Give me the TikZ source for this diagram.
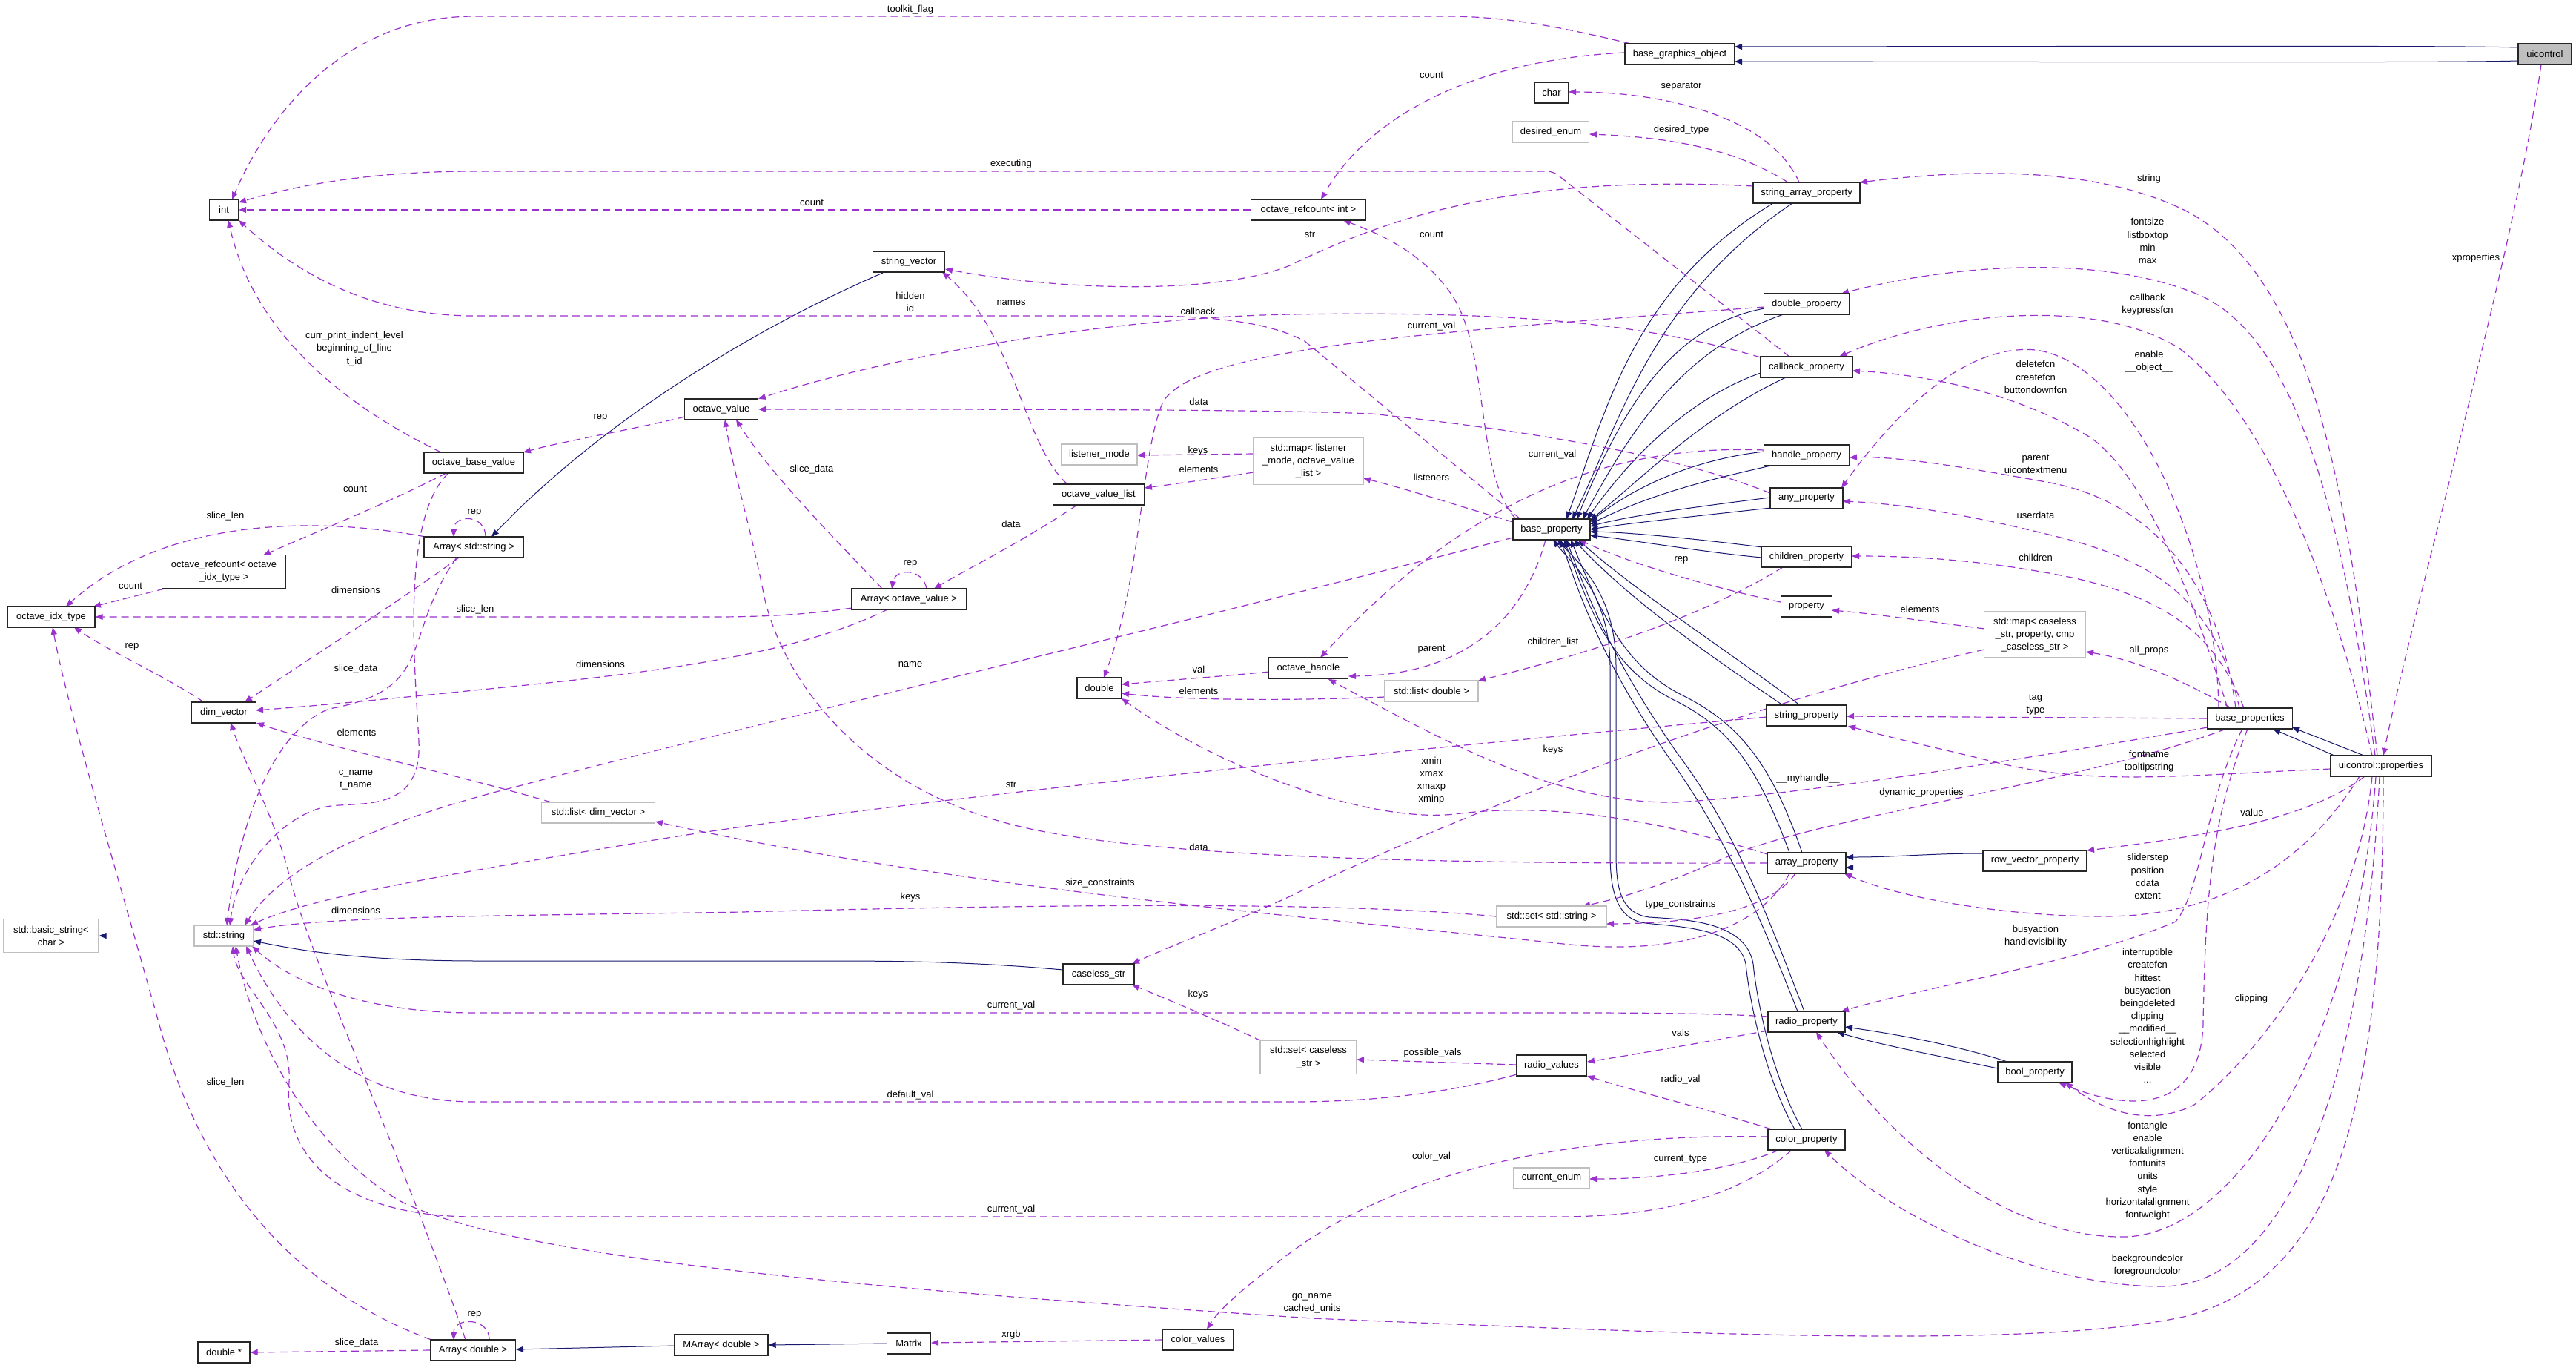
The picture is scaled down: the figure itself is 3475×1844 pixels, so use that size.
\documentclass[tikz,border=0pt]{standalone}
\usepackage{fontspec}
\setmainfont{Liberation Sans}
\usetikzlibrary{arrows.meta,calc}
\pgfdeclarelayer{background}
\pgfsetlayers{background,main}
\definecolor{purp}{HTML}{9A32CD}
\definecolor{navyc}{HTML}{191970}
\definecolor{grayb}{HTML}{BFBFBF}
\newcommand\dfont{\fontsize{6.5pt}{8.6pt}\selectfont}
\begin{document}
\begin{tikzpicture}[x=0.5pt,y=-0.5pt,
  cls/.style={draw=black!85, line width=0.7pt, fill=white, font=\dfont, align=center, inner xsep=2pt, inner ysep=2pt, minimum height=14pt},
  ext/.style={cls, draw=grayb},
  inh/.style={draw=navyc, line width=0.5pt, -{Triangle[length=5pt,width=4pt]}},
  dep/.style={draw=purp, line width=0.6pt, dash pattern=on 5pt off 3pt, -{Triangle[length=5pt,width=4pt]}},
  lab/.style={font=\dfont, align=center, inner sep=0pt}]
\useasboundingbox (0,0) rectangle (3475,1844);
% ---------------- nodes
\node[cls,fill=grayb,minimum width=36pt] (uic) at (3433,73) {uicontrol};
\node[cls,minimum width=74pt] (bgo) at (2266,73) {base\_graphics\_object};
\node[cls,minimum width=23pt] (char) at (2093,125) {char};
\node[ext,minimum width=51.5pt] (denum) at (2092,178) {desired\_enum};
\node[cls,minimum width=72pt] (sap) at (2437,260) {string\_array\_property};
\node[cls,minimum width=77.5pt] (orint) at (1765,283) {octave\_refcount< int >};
\node[cls,minimum width=19.5pt] (int) at (302,283) {int};
\node[cls,minimum width=48.5pt] (sv) at (1226,353) {string\_vector};
\node[cls,minimum width=57.5pt] (dp) at (2437,410) {double\_property};
\node[cls,minimum width=62pt] (cbp) at (2437,495) {callback\_property};
\node[cls,minimum width=49.5pt] (ov) at (973,552) {octave\_value};
\node[cls,minimum width=67pt] (obv) at (639,624) {octave\_base\_value};
\node[ext,minimum width=51pt] (lm) at (1483,613) {listener\_mode};
\node[ext,minimum width=74pt,minimum height=31.5pt] (mapl) at (1765,622) {std::map< listener\\\_mode, octave\_value\\\_list >};
\node[cls,minimum width=57.5pt] (hp) at (2437,614) {handle\_property};
\node[cls,minimum width=61.5pt] (ovl) at (1482,667) {octave\_value\_list};
\node[cls,minimum width=49pt] (anyp) at (2437,672) {any\_property};
\node[cls,minimum width=52pt] (bp) at (2093,714) {base\_property};
\node[cls,minimum width=67pt] (astr) at (639,738) {Array< std::string >};
\node[cls,minimum width=83.5pt,minimum height=22.5pt] (oroi) at (302,771) {octave\_refcount< octave\\\_idx\_type >};
\node[cls,minimum width=59pt] (oidx) at (69,832) {octave\_idx\_type};
\node[cls,minimum width=60.5pt] (chp) at (2437,751) {children\_property};
\node[cls,minimum width=77.5pt] (aov) at (1226,808) {Array< octave\_value >};
\node[cls,minimum width=34.5pt] (prop) at (2437,818) {property};
\node[ext,minimum width=68.5pt,minimum height=31pt] (mapc) at (2745,856) {std::map< caseless\\\_str, property, cmp\\\_caseless\_str >};
\node[cls,minimum width=53.5pt] (oh) at (1765,901) {octave\_handle};
\node[cls,minimum width=30pt] (dbl) at (1483,928) {double};
\node[ext,minimum width=63pt] (ldbl) at (1931,932) {std::list< double >};
\node[cls,minimum width=43.5pt] (dimv) at (302,961) {dim\_vector};
\node[cls,minimum width=54pt] (strp) at (2437,965) {string\_property};
\node[cls,minimum width=57.5pt] (bps) at (3035,969) {base\_properties};
\node[cls,minimum width=68pt] (uip) at (3212,1033) {uicontrol::properties};
\node[ext,minimum width=76.5pt] (ldim) at (807,1096) {std::list< dim\_vector >};
\node[cls,minimum width=53pt] (arrp) at (2437,1164) {array\_property};
\node[cls,minimum width=70pt] (rvp) at (2745,1161) {row\_vector\_property};
\node[ext,minimum width=74pt] (sets) at (2093,1236) {std::set< std::string >};
\node[ext,minimum width=64pt,minimum height=22.5pt] (bstr) at (69,1262) {std::basic\_string<\\char >};
\node[ext,minimum width=40pt] (str) at (302,1262) {std::string};
\node[cls,minimum width=48pt] (cstr) at (1482,1314) {caseless\_str};
\node[cls,minimum width=52pt] (radp) at (2437,1378) {radio\_property};
\node[ext,minimum width=65pt,minimum height=22.5pt] (setc) at (1765,1426) {std::set< caseless\\\_str >};
\node[cls,minimum width=47.5pt] (radv) at (2093,1437) {radio\_values};
\node[cls,minimum width=50pt] (boolp) at (2745,1446) {bool\_property};
\node[cls,minimum width=52pt] (colp) at (2437,1537) {color\_property};
\node[ext,minimum width=51pt] (cenum) at (2093,1589) {current\_enum};
\node[cls,minimum width=63pt] (marr) at (973,1814) {MArray< double >};
\node[cls,minimum width=29.5pt] (matrix) at (1226,1812) {Matrix};
\node[cls,minimum width=48pt] (colv) at (1616,1807) {color\_values};
\node[cls,minimum width=57.5pt] (adbl) at (638,1821) {Array< double >};
\node[cls,minimum width=35pt] (dstar) at (302,1824) {double *};
% ---------------- edges
\begin{pgfonlayer}{background}
\fill[white] (0,0) rectangle (3475,1844);
% inheritance
\draw[inh] ($(uic)+(-36,-9)$) .. controls (3320,62) and (3100,62) .. ($(bgo)+(74,-10)$);
\draw[inh] ($(uic)+(-36,9)$) .. controls (3320,84) and (3100,84) .. ($(bgo)+(74,10)$);
\draw[inh] ($(sap)+(-45,14)$) .. controls (2200,390) and (2165,560) .. ($(bp)+(20,-14)$);
\draw[inh] ($(sap)+(-19,14)$) .. controls (2230,400) and (2185,570) .. ($(bp)+(28,-14)$);
\draw[inh] ($(dp)+(-57,6)$) .. controls (2250,440) and (2185,560) .. ($(bp)+(34,-14)$);
\draw[inh] ($(dp)+(-31,14)$) .. controls (2270,470) and (2200,580) .. ($(bp)+(42,-14)$);
\draw[inh] ($(cbp)+(-62,8)$) .. controls (2270,540) and (2190,630) .. ($(bp)+(48,-14)$);
\draw[inh] ($(cbp)+(-28,14)$) .. controls (2300,560) and (2220,640) .. ($(bp)+(52,-12)$);
\draw[inh] ($(hp)+(-57,-5)$) .. controls (2280,620) and (2200,660) .. ($(bp)+(52,-10)$);
\draw[inh] ($(hp)+(-48,14)$) .. controls (2290,650) and (2220,670) .. ($(bp)+(52,-7)$);
\draw[inh] ($(anyp)+(-49,-1)$) .. controls (2300,682) and (2200,695) .. ($(bp)+(52,-4)$);
\draw[inh] ($(anyp)+(-49,13)$) .. controls (2300,695) and (2200,705) .. ($(bp)+(52,0)$);
\draw[inh] ($(chp)+(-60,-13)$) .. controls (2300,728) and (2200,718) .. ($(bp)+(52,3)$);
\draw[inh] ($(chp)+(-60,1)$) .. controls (2300,745) and (2200,728) .. ($(bp)+(52,8)$);
\draw[inh] ($(strp)+(-32,-14)$) .. controls (2300,880) and (2200,810) .. ($(bp)+(30,14)$);
\draw[inh] ($(strp)+(-9,-14)$) .. controls (2320,870) and (2210,800) .. ($(bp)+(36,14)$);
\draw[inh] ($(arrp)+(-23,-14)$) .. controls (2370,1030) and (2330,980) .. (2260,945) .. controls (2180,905) and (2150,840) .. ($(bp)+(17,14)$);
\draw[inh] ($(arrp)+(-6,-14)$) .. controls (2390,1030) and (2345,975) .. (2270,938) .. controls (2195,900) and (2165,840) .. ($(bp)+(26,14)$);
\draw[inh] ($(radp)+(-12,-14)$) .. controls (2380,1250) and (2330,1130) .. (2250,1020) .. controls (2160,890) and (2130,800) .. ($(bp)+(12,14)$);
\draw[inh] ($(radp)+(-3,-14)$) .. controls (2390,1250) and (2345,1125) .. (2262,1015) .. controls (2175,890) and (2140,800) .. ($(bp)+(20,14)$);
\draw[inh] ($(colp)+(-16,-14)$) .. controls (2380,1450) and (2360,1350) .. (2355,1300) .. controls (2345,1250) and (2260,1250) .. (2220,1245) .. controls (2180,1240) and (2172,1200) .. (2172,1150) -- (2172,900) .. controls (2172,800) and (2120,760) .. ($(bp)+(2,14)$);
\draw[inh] ($(colp)+(-6,-14)$) .. controls (2390,1450) and (2370,1350) .. (2365,1300) .. controls (2355,1240) and (2265,1240) .. (2225,1237) .. controls (2185,1232) and (2180,1195) .. (2180,1150) -- (2180,900) .. controls (2180,800) and (2130,760) .. ($(bp)+(8,14)$);
\draw[inh] ($(rvp)+(-70,-10)$) .. controls (2600,1151) and (2560,1156) .. ($(arrp)+(53,-8)$);
\draw[inh] ($(rvp)+(-70,9)$) .. controls (2600,1170) and (2560,1170) .. ($(arrp)+(53,6)$);
\draw[inh] ($(boolp)+(-37,-14)$) .. controls (2640,1410) and (2560,1395) .. ($(radp)+(52,7)$);
\draw[inh] ($(boolp)+(-50,-5)$) .. controls (2620,1425) and (2540,1410) .. ($(radp)+(41,14)$);
\draw[inh] ($(uip)+(-63,-14)$) -- ($(bps)+(31,14)$);
\draw[inh] ($(uip)+(-23,-14)$) -- ($(bps)+(57,12)$);
\draw[inh] ($(sv)+(-35,15)$) .. controls (1000,450) and (800,580) .. ($(astr)+(24,-14)$);
\draw[inh] (str.west) -- (bstr.east);
\draw[inh] ($(cstr)+(-48,-6)$) .. controls (1300,1296) and (1200,1296) .. (1100,1296) -- (650,1296) .. controls (500,1296) and (420,1285) .. ($(str)+(40,7)$);
\draw[inh] (matrix.west) -- (marr.east);
\draw[inh] ($(marr)+(-63,1)$) -- ($(adbl)+(58,-1)$);
% usage
\draw[dep] ($(bgo)+(-66,-14)$) .. controls (2100,35) and (2030,22) .. (1950,22) -- (640,22) .. controls (460,22) and (360,160) .. ($(int)+(11,-14)$);
\draw[dep] ($(bgo)+(-74,-2)$) .. controls (2000,80) and (1850,150) .. ($(orint)+(17,-14)$);
\draw[dep] ($(sap)+(-10,-14)$) .. controls (2390,160) and (2250,124) .. ($(char)+(23,-1)$);
\draw[dep] ($(sap)+(-25,-14)$) .. controls (2340,200) and (2250,185) .. ($(denum)+(52,3)$);
\draw[dep] ($(sap)+(-72,-9)$) .. controls (2050,235) and (1880,290) .. (1740,358) .. controls (1650,395) and (1450,395) .. ($(sv)+(49,10)$);
\draw[dep] ($(uip)+(-5,-14)$) .. controls (3170,700) and (3130,380) .. (2950,285) .. controls (2820,220) and (2640,230) .. ($(sap)+(72,-14)$);
\draw[dep] ($(uip)+(-8,-14)$) .. controls (3160,700) and (3100,450) .. (2960,395) .. controls (2820,340) and (2620,360) .. ($(dp)+(47,-14)$);
\draw[dep] ($(uip)+(-12,-14)$) .. controls (3150,800) and (3060,560) .. (2940,470) .. controls (2830,400) and (2620,420) .. ($(cbp)+(44,-14)$);
\draw[dep] ($(bps)+(-30,-14)$) .. controls (2950,780) and (2890,640) .. (2820,590) .. controls (2720,530) and (2600,505) .. ($(cbp)+(62,5)$);
\draw[dep] ($(bps)+(-42,-14)$) .. controls (2990,750) and (2880,490) .. (2746,472) .. controls (2640,462) and (2540,580) .. ($(anyp)+(47,-14)$);
\draw[dep] ($(bps)+(-19,-14)$) .. controls (2990,760) and (2880,670) .. (2760,650) .. controls (2650,630) and (2560,615) .. ($(hp)+(58,3)$);
\draw[dep] ($(bps)+(-14,-14)$) .. controls (2990,820) and (2920,760) .. (2780,725) .. controls (2680,700) and (2580,680) .. ($(anyp)+(49,4)$);
\draw[dep] ($(bps)+(-8,-14)$) .. controls (2990,860) and (2930,810) .. (2800,780) .. controls (2680,755) and (2580,750) .. ($(chp)+(61,-1)$);
\draw[dep] ($(mapc)+(-68,-8)$) .. controls (2600,838) and (2530,828) .. ($(prop)+(34,5)$);
\draw[dep] ($(bps)+(-25,-14)$) .. controls (2940,915) and (2880,890) .. ($(mapc)+(69,23)$);
\draw[dep] (bps.west) -- ($(strp)+(54,1)$);
\draw[dep] ($(uip)+(-68,4)$) .. controls (2950,1045) and (2830,1060) .. (2700,1030) .. controls (2620,1010) and (2550,995) .. ($(strp)+(56,14)$);
\draw[dep] ($(bps)+(-57,12)$) .. controls (2750,1020) and (2450,1070) .. (2262,1082) .. controls (2100,1085) and (1950,1000) .. ($(oh)+(27,15)$);
\draw[dep] ($(bps)+(-32,14)$) .. controls (2800,1060) and (2450,1100) .. (2320,1160) .. controls (2230,1200) and (2170,1215) .. ($(sets)+(42,-14)$);
\draw[dep] ($(arrp)+(-15,14)$) .. controls (2390,1225) and (2300,1245) .. ($(sets)+(74,10)$);
\draw[dep] ($(arrp)+(-23,14)$) .. controls (2370,1260) and (2250,1290) .. (2100,1272) .. controls (1800,1240) and (1300,1200) .. ($(ldim)+(77,12)$);
\draw[dep] ($(uip)+(-22,14)$) .. controls (3120,1100) and (3000,1125) .. ($(rvp)+(70,-14)$);
\draw[dep] ($(uip)+(-29,14)$) .. controls (3100,1180) and (2980,1235) .. (2840,1236) .. controls (2700,1236) and (2560,1210) .. ($(arrp)+(51,14)$);
\draw[dep] ($(bps)+(-10,14)$) .. controls (2975,1080) and (2970,1200) .. (2935,1243) .. controls (2800,1300) and (2600,1330) .. ($(radp)+(47,-14)$);
\draw[dep] ($(bps)+(-3,14)$) .. controls (2985,1100) and (2975,1200) .. (2972,1380) .. controls (2970,1480) and (2900,1510) .. ($(boolp)+(32,14)$);
\draw[dep] ($(uip)+(-12,14)$) .. controls (3180,1250) and (3050,1420) .. (2960,1490) .. controls (2900,1520) and (2840,1500) .. ($(boolp)+(41,14)$);
\draw[dep] ($(uip)+(-7,14)$) .. controls (3180,1400) and (3020,1665) .. (2866,1668) .. controls (2720,1670) and (2560,1560) .. ($(radp)+(13,14)$);
\draw[dep] ($(uip)+(-2,14)$) .. controls (3190,1450) and (3090,1735) .. (2916,1735) .. controls (2750,1735) and (2550,1640) .. ($(colp)+(24,14)$);
\draw[dep] ($(uip)+(3,14)$) .. controls (3215,1500) and (3150,1720) .. (2950,1775) .. controls (2750,1820) and (2300,1800) .. (1770,1778) .. controls (1200,1740) and (700,1700) .. (540,1620) .. controls (420,1550) and (340,1400) .. ($(str)+(16,14)$);
\draw[dep] ($(uic)+(-5,14)$) .. controls (3390,350) and (3260,800) .. ($(uip)+(3,-14)$);
\draw[dep] (orint.west) -- (int.east);
\draw[dep] ($(cbp)+(-23,-14)$) -- (2100,235) .. controls (2092,231) .. (2080,231) -- (640,231) .. controls (500,231) and (400,250) .. ($(int)+(20,-10)$);
\draw[dep] ($(bp)+(-42,-14)$) -- (1760,460) .. controls (1700,428) and (1600,426) .. (1536,426) -- (640,426) .. controls (480,426) and (380,350) .. ($(int)+(20,14)$);
\draw[dep] ($(obv)+(-44,-14)$) .. controls (450,540) and (340,440) .. ($(int)+(6,14)$);
\draw[dep] ($(bp)+(-48,-14)$) .. controls (1990,640) and (2010,480) .. (1960,400) .. controls (1920,340) and (1860,315) .. ($(orint)+(47,14)$);
\draw[dep] ($(dp)+(-57,4)$) .. controls (1900,450) and (1620,470) .. (1570,540) .. controls (1540,600) and (1540,780) .. ($(dbl)+(6,-14)$);
\draw[dep] ($(cbp)+(-62,-13)$) .. controls (2200,430) and (2000,420) .. (1740,424) .. controls (1500,428) and (1200,480) .. ($(ov)+(50,-14)$);
\draw[dep] ($(anyp)+(-49,-7)$) .. controls (2300,630) and (2150,590) .. (1850,558) .. controls (1700,552) and (1400,552) .. (ov.east);
\draw[dep] ($(mapl)+(-74,-10)$) -- ($(lm)+(51,1)$);
\draw[dep] ($(mapl)+(-74,15)$) .. controls (1640,645) and (1590,652) .. ($(ovl)+(62,-9)$);
\draw[dep] ($(bp)+(-52,-10)$) .. controls (1960,680) and (1900,660) .. ($(mapl)+(74,23)$);
\draw[dep] ($(hp)+(-57,-7)$) .. controls (2200,600) and (2000,650) .. ($(oh)+(16,-14)$);
\draw[dep] ($(ovl)+(-42,-14)$) .. controls (1380,600) and (1370,450) .. ($(sv)+(45,14)$);
\draw[dep] ($(ovl)+(-29,14)$) .. controls (1380,730) and (1300,770) .. ($(aov)+(34,-14)$);
\draw[dep] ($(aov)+(24,-14)$) .. controls (1245,766) and (1208,766) .. ($(aov)+(-23,-14)$);
\draw[dep] ($(aov)+(-36,-14)$) .. controls (1120,720) and (1040,640) .. ($(ov)+(20,14)$);
\draw[dep] ($(ov)+(-49,10)$) .. controls (850,580) and (760,595) .. ($(obv)+(67,-14)$);
\draw[dep] ($(aov)+(-77,12)$) .. controls (1080,830) and (1020,832) .. (960,832) -- (oidx.east);
\draw[dep] ($(aov)+(-29,14)$) .. controls (1080,880) and (900,905) .. (700,925) .. controls (550,940) and (450,950) .. ($(dimv)+(43,-3)$);
\draw[dep] ($(astr)+(16,-14)$) .. controls (655,693) and (612,693) .. ($(astr)+(-27,-14)$);
\draw[dep] ($(astr)+(-65,-14)$) .. controls (420,695) and (220,700) .. ($(oidx)+(20,-14)$);
\draw[dep] ($(astr)+(-20,14)$) .. controls (540,810) and (430,880) .. ($(dimv)+(28,-14)$);
\draw[dep] ($(astr)+(-23,14)$) .. controls (540,860) and (590,930) .. (444,956) .. controls (360,990) and (320,1130) .. ($(str)+(4,-14)$);
\draw[dep] ($(obv)+(-37,14)$) .. controls (520,680) and (420,720) .. ($(oroi)+(53,-22)$);
\draw[dep] ($(oroi)+(-80,23)$) -- ($(oidx)+(57,-14)$);
\draw[dep] ($(dimv)+(-27,-14)$) .. controls (220,910) and (150,880) .. ($(oidx)+(31,14)$);
\draw[dep] ($(ldim)+(-63,-14)$) .. controls (600,1040) and (450,1010) .. ($(dimv)+(44,14)$);
\draw[dep] ($(bp)+(-52,11)$) .. controls (1600,840) and (1000,980) .. (700,1060) .. controls (500,1110) and (380,1170) .. ($(str)+(28,-14)$);
\draw[dep] ($(obv)+(-34,14)$) .. controls (540,700) and (560,900) .. (565,1000) .. controls (570,1100) and (480,1080) .. (440,1088) .. controls (380,1100) and (320,1170) .. ($(str)+(8,-14)$);
\draw[dep] ($(strp)+(-54,2)$) .. controls (1900,1010) and (1200,1080) .. (870,1135) .. controls (600,1180) and (420,1210) .. ($(str)+(36,-14)$);
\draw[dep] (sets.west) .. controls (1800,1215) and (1400,1220) .. (1000,1230) .. controls (700,1235) and (450,1235) .. ($(str)+(40,-8)$);
\draw[dep] ($(radp)+(-52,-7)$) .. controls (2300,1366) and (2200,1366) .. (2100,1366) -- (640,1366) .. controls (500,1366) and (400,1330) .. ($(str)+(38,14)$);
\draw[dep] ($(radv)+(-47,12)$) .. controls (1950,1475) and (1850,1486) .. (1740,1486) -- (640,1486) .. controls (470,1486) and (380,1380) .. ($(str)+(30,14)$);
\draw[dep] ($(radp)+(-52,12)$) .. controls (2300,1405) and (2220,1420) .. ($(radv)+(48,-5)$);
\draw[dep] ($(radv)+(-47,-1)$) -- ($(setc)+(65,3)$);
\draw[dep] ($(setc)+(-63,-22)$) .. controls (1640,1375) and (1580,1350) .. ($(cstr)+(45,14)$);
\draw[dep] ($(mapc)+(-68,20)$) .. controls (2300,960) and (1900,1130) .. (1740,1209) .. controls (1650,1250) and (1580,1275) .. ($(cstr)+(45,-14)$);
\draw[dep] ($(colp)+(-47,-14)$) .. controls (2300,1495) and (2200,1470) .. ($(radv)+(48,14)$);
\draw[dep] ($(colp)+(-37,14)$) .. controls (2330,1580) and (2230,1590) .. ($(cenum)+(51,1)$);
\draw[dep] ($(colp)+(-20,14)$) .. controls (2350,1610) and (2250,1641) .. (2100,1641) -- (640,1641) .. controls (460,1641) and (380,1560) .. (390,1460) .. controls (395,1380) and (320,1330) .. ($(str)+(12,14)$);
\draw[dep] ($(colp)+(-52,-4)$) .. controls (2150,1528) and (1900,1570) .. (1740,1690) .. controls (1680,1735) and (1645,1765) .. ($(colv)+(12,-14)$);
\draw[dep] ($(colv)+(-48,0)$) -- ($(matrix)+(30,-1)$);
\draw[dep] ($(adbl)+(22,-14)$) .. controls (660,1776) and (612,1776) .. ($(adbl)+(-26,-14)$);
\draw[dep] (adbl.west) -- (dstar.east);
\draw[dep] ($(adbl)+(-56,-14)$) .. controls (400,1740) and (280,1600) .. (220,1400) .. controls (150,1150) and (90,950) .. ($(oidx)+(2,14)$);
\draw[dep] ($(adbl)+(-10,-14)$) .. controls (540,1550) and (420,1300) .. (390,1180) .. controls (370,1100) and (330,1030) .. ($(dimv)+(9,14)$);
\draw[dep] ($(arrp)+(-53,0)$) .. controls (2000,1165) and (1600,1160) .. (1400,1120) .. controls (1150,1070) and (1050,900) .. (1030,800) .. controls (1010,700) and (990,640) .. ($(ov)+(5,14)$);
\draw[dep] ($(arrp)+(-53,-12)$) .. controls (2250,1110) and (2100,1080) .. (1962,1098) .. controls (1850,1110) and (1650,1040) .. ($(dbl)+(30,14)$);
\draw[dep] ($(chp)+(-32,14)$) .. controls (2300,830) and (2150,880) .. ($(ldbl)+(63,-14)$);
\draw[dep] ($(bp)+(-8,14)$) .. controls (2060,820) and (1990,910) .. ($(oh)+(54,11)$);
\draw[dep] ($(prop)+(-35,-6)$) .. controls (2300,790) and (2200,760) .. ($(bp)+(37,14)$);
\draw[dep] ($(ldbl)+(-63,8)$) .. controls (1750,945) and (1600,945) .. ($(dbl)+(30,7)$);
\draw[dep] ($(oh)+(-53,5)$) .. controls (1650,912) and (1570,918) .. ($(dbl)+(30,-5)$);
\end{pgfonlayer}
% ---------------- labels
\node[lab] at (1228,13) {toolkit\_flag};
\node[lab] at (1931,101) {count};
\node[lab] at (2268,117) {separator};
\node[lab] at (2268,175) {desired\_type};
\node[lab] at (1364,221) {executing};
\node[lab] at (1095,273) {count};
\node[lab] at (1767,316) {str};
\node[lab] at (1931,316) {count};
\node[lab] at (2899,241) {string};
\node[lab] at (2897,325) {fontsize\\listboxtop\\min\\max};
\node[lab] at (3340,348) {xproperties};
\node[lab] at (1228,407.5) {hidden\\id};
\node[lab] at (1364,408) {names};
\node[lab] at (1616,420) {callback};
\node[lab] at (1931,440) {current\_val};
\node[lab] at (2897,411) {callback\\keypressfcn};
\node[lab] at (478,470.5) {curr\_print\_indent\_level\\beginning\_of\_line\\t\_id};
\node[lab] at (2746,508.5) {deletefcn\\createfcn\\buttondownfcn};
\node[lab] at (2899,487.5) {enable\\\_\_object\_\_};
\node[lab] at (1617,542) {data};
\node[lab] at (810,563) {rep};
\node[lab] at (1616,608) {keys};
\node[lab] at (2094,613) {current\_val};
\node[lab] at (2746,626) {parent\\uicontextmenu};
\node[lab] at (1095,633) {slice\_data};
\node[lab] at (1617,633) {elements};
\node[lab] at (1931,644) {listeners};
\node[lab] at (479,659) {count};
\node[lab] at (640,691) {rep};
\node[lab] at (304,696) {slice\_len};
\node[lab] at (2746,695) {userdata};
\node[lab] at (1364,707) {data};
\node[lab] at (2746,752) {children};
\node[lab] at (2268,755) {rep};
\node[lab] at (1228,760) {rep};
\node[lab] at (176,790) {count};
\node[lab] at (480,796) {dimensions};
\node[lab] at (2590,822) {elements};
\node[lab] at (641,822) {slice\_len};
\node[lab] at (2095,866) {children\_list};
\node[lab] at (178,872) {rep};
\node[lab] at (1931,876) {parent};
\node[lab] at (2899,877) {all\_props};
\node[lab] at (810,896) {dimensions};
\node[lab] at (1228,896) {name};
\node[lab] at (480,902) {slice\_data};
\node[lab] at (1617,903) {val};
\node[lab] at (1617,932) {elements};
\node[lab] at (2746,950) {tag\\type};
\node[lab] at (481,988) {elements};
\node[lab] at (2095,1011) {keys};
\node[lab] at (2899,1026.5) {fontname\\tooltipstring};
\node[lab] at (1931,1052.5) {xmin\\xmax\\xmaxp\\xminp};
\node[lab] at (480,1051.5) {c\_name\\t\_name};
\node[lab] at (2439,1050) {\_\_myhandle\_\_};
\node[lab] at (1364,1058) {str};
\node[lab] at (2592,1069) {dynamic\_properties};
\node[lab] at (3038,1096) {value};
\node[lab] at (1617,1143) {data};
\node[lab] at (2897,1182) {sliderstep\\position\\cdata\\extent};
\node[lab] at (1484,1191) {size\_constraints};
\node[lab] at (1228,1210) {keys};
\node[lab] at (2267,1220) {type\_constraints};
\node[lab] at (480,1228) {dimensions};
\node[lab] at (2746,1262.5) {busyaction\\handlevisibility};
\node[lab] at (2897,1370) {interruptible\\createfcn\\hittest\\busyaction\\beingdeleted\\clipping\\\_\_modified\_\_\\selectionhighlight\\selected\\visible\\...};
\node[lab] at (1616,1341) {keys};
\node[lab] at (3037,1347.5) {clipping};
\node[lab] at (1364,1356.5) {current\_val};
\node[lab] at (2267,1392.5) {vals};
\node[lab] at (1932.5,1420) {possible\_vals};
\node[lab] at (2267,1456) {radio\_val};
\node[lab] at (304,1460) {slice\_len};
\node[lab] at (1228,1477) {default\_val};
\node[lab] at (2897,1579) {fontangle\\enable\\verticalalignment\\fontunits\\units\\style\\horizontalalignment\\fontweight};
\node[lab] at (1931,1560) {color\_val};
\node[lab] at (2267,1564) {current\_type};
\node[lab] at (1364,1631) {current\_val};
\node[lab] at (2897,1707) {backgroundcolor\\foregroundcolor};
\node[lab] at (1770,1757.5) {go\_name\\cached\_units};
\node[lab] at (640,1773) {rep};
\node[lab] at (1364,1800) {xrgb};
\node[lab] at (481,1811) {slice\_data};
\end{tikzpicture}
\end{document}
